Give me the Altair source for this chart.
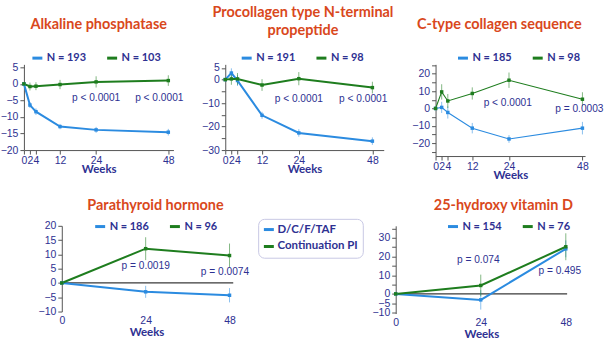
import altair as alt
import pandas as pd

BLUE = "#2b8be0"
GREEN = "#1e7d1e"
NAVY = "#2e3192"
RED = "#d9481c"
FONT = "Liberation Sans"
TFONT = "Lato"

SERIES = ["D/C/F/TAF", "Continuation PI"]

WEEKS_BONE = [0, 2, 4, 12, 24, 48]
WEEKS_MIN = [0, 24, 48]

# Alkaline phosphatase
ALP_N = ["N = 193", "N = 103"]
ALP_DCF = [0, -6.4, -8.4, -12.9, -13.9, -14.6]
ALP_DCF_ERR = [0, 0.9, 1.0, 0.8, 0.9, 1.0]
ALP_PI = [0, -0.8, -0.7, -0.2, 0.6, 1.0]
ALP_PI_ERR = [0, 1.2, 1.2, 1.4, 1.7, 1.6]
ALP_P_WEEK = [24, 45]
ALP_P_VAL = [-4.3, -4.3]
ALP_P_TEXT = ["p < 0.0001", "p < 0.0001"]
ALP_YTICKS = [5, 0, -5, -10, -15, -20]
ALP_YLABELS = [5, 0, -5, -10, -15, -20]

# Procollagen type N-terminal propeptide
P1NP_N = ["N = 191", "N = 98"]
P1NP_DCF = [0, 2.8, -0.4, -15.2, -22.7, -26.2]
P1NP_DCF_ERR = [0, 2.0, 2.3, 1.5, 1.6, 1.6]
P1NP_PI = [0, 0.3, 0.3, -2.3, 0.4, -3.4]
P1NP_PI_ERR = [0, 2.5, 2.5, 2.5, 2.8, 2.5]
P1NP_P_WEEK = [24, 45]
P1NP_P_VAL = [-8.3, -8.3]
P1NP_P_TEXT = ["p < 0.0001", "p < 0.0001"]
P1NP_YTICKS = [5, 0, -5, -10, -15, -20, -25, -30]
P1NP_YLABELS = [5, 0, -10, -20, -30]

# C-type collagen sequence
CTX_N = ["N = 185", "N = 98"]
CTX_DCF = [0, 0.6, -2.3, -11.3, -17.5, -11.3]
CTX_DCF_ERR = [0, 3.2, 3.5, 3.0, 2.2, 3.6]
CTX_PI = [0, 9.5, 4.3, 8.6, 16.2, 5.3]
CTX_PI_ERR = [0, 4.4, 4.0, 3.5, 4.4, 4.0]
CTX_P_WEEK = [23.6, 47]
CTX_P_VAL = [3.4, -0.4]
CTX_P_TEXT = ["p < 0.0001", "p = 0.0003"]
CTX_YTICKS = [25, 20, 15, 10, 5, 0, -5, -10, -15, -20, -25]
CTX_YLABELS = [20, 10, 0, -10, -20]

# Parathyroid hormone
PTH_N = ["N = 186", "N = 96"]
PTH_DCF = [0, -3.1, -4.3]
PTH_DCF_ERR = [0, 2.1, 2.5]
PTH_PI = [0, 12.0, 9.6]
PTH_PI_ERR = [0, 4.0, 4.2]
PTH_P_WEEK = [24, 46.7]
PTH_P_VAL = [5.8, 3.8]
PTH_P_TEXT = ["p = 0.0019", "p = 0.0074"]
PTH_YTICKS = [20, 15, 10, 5, 0, -5, -10]
PTH_YLABELS = [20, 15, 10, 5, 0, -5, -10]

# 25-hydroxy vitamin D
VITD_N = ["N = 154", "N = 76"]
VITD_DCF = [0, -3.2, 24.1]
VITD_DCF_ERR = [0, 5.2, 4.5]
VITD_PI = [0, 4.5, 25.2]
VITD_PI_ERR = [0, 5.8, 7.2]
VITD_P_WEEK = [23.3, 46.3]
VITD_P_VAL = [18, 12]
VITD_P_TEXT = ["p = 0.074", "p = 0.495"]
VITD_YTICKS = [35, 30, 25, 20, 15, 10, 5, 0, -5, -10]
VITD_YLABELS = [30, 20, 10, 0, -5, -10]

GLOBAL_LEGEND = alt.Legend(
    orient="none", legendX=235, legendY=155, title=None, direction="vertical",
    symbolType="M-1,-0.3H1V0.3H-1Z", symbolSize=100, symbolStrokeWidth=0,
    labelFont=TFONT, labelFontSize=11.5, labelFontWeight="bold", labelColor=NAVY,
    strokeColor="#c8c8e4", cornerRadius=6, fillColor="white", padding=5,
    rowPadding=4, labelOffset=3,
)


def panel(title, weeks, dcf, dcf_err, pi, pi_err, n_labels, p_week, p_val, p_text,
          x_dom, y_dom, y_ticks, y_labels, width, height, legend_x, legend_y,
          title_dx, title_offset, line_width, top_row, y_offset=0, title_x=None):
    n = len(weeks)
    vals = dcf + pi
    errs = dcf_err + pi_err
    df = pd.DataFrame({
        "week": weeks + weeks,
        "value": vals,
        "lo": [v - e for v, e in zip(vals, errs)],
        "hi": [v + e for v, e in zip(vals, errs)],
        "series": [SERIES[0]] * n + [SERIES[1]] * n,
        "nlab": [n_labels[0]] * n + [n_labels[1]] * n,
    })
    ptxt = pd.DataFrame({"week": p_week, "value": p_val, "text": p_text})

    label_expr = ("indexof([" + ",".join(str(v) for v in y_labels)
                  + "], datum.value) >= 0 ? datum.label : ''")
    if top_row:
        xaxis = alt.Axis(values=weeks, title="Weeks", domain=True, ticks=True, tickSize=4,
                         labelPadding=1, titlePadding=-2, labelOverlap=False,
                         labelFlush=False, labelBound=False)
    else:
        xaxis = alt.Axis(values=weeks, title="Weeks", domain=False, ticks=False,
                         labelPadding=4, titlePadding=1, labelOverlap=False,
                         labelFlush=False, labelBound=False, titleX=title_x)
    yaxis = alt.Axis(values=y_ticks, labelExpr=label_expr, title=None, tickSize=4,
                     offset=y_offset, labelOverlap=False, labelFlush=False)
    xs = alt.Scale(domain=x_dom, nice=False, zero=False)
    ys = alt.Scale(domain=y_dom, nice=False, zero=False)
    x = alt.X("week:Q", scale=xs, axis=xaxis)
    y = alt.Y("value:Q", scale=ys, axis=yaxis)

    sscale = alt.Scale(domain=n_labels, range=[BLUE, GREEN])
    slegend = alt.Legend(
        orient="none", legendX=legend_x, legendY=legend_y, direction="horizontal",
        title=None, symbolType="stroke", symbolSize=100, symbolStrokeWidth=3,
        labelFont=TFONT, labelFontSize=11, labelFontWeight="bold", labelColor=NAVY,
        labelOffset=3, columnPadding=14, padding=0,
    )
    stroke = alt.Stroke("nlab:N", scale=sscale, legend=slegend)
    fill = alt.Fill("series:N", scale=alt.Scale(domain=SERIES, range=[BLUE, GREEN]),
                    legend=GLOBAL_LEGEND)

    layers = []
    if not top_row:
        zero = pd.DataFrame({"week": [0], "week_end": [x_dom[1]], "value": [0]})
        layers.append(alt.Chart(zero).mark_rule(color="#3a3a3a", strokeWidth=1.2)
                      .encode(x=x, x2="week_end:Q", y=y))
    layers.append(alt.Chart(df).mark_line(strokeWidth=line_width).encode(x=x, y=y, stroke=stroke))
    layers.append(alt.Chart(df).mark_rule(strokeWidth=1, strokeOpacity=0.55).encode(
        x=x, y=alt.Y("lo:Q", scale=ys, axis=yaxis), y2="hi:Q", stroke=stroke))
    layers.append(alt.Chart(df).mark_square(size=12, opacity=1).encode(x=x, y=y, fill=fill))
    layers.append(alt.Chart(ptxt).mark_text(font=FONT, fontSize=10.2, color=NAVY).encode(
        x=x, y=y, text="text:N"))

    return alt.layer(*layers).properties(
        width=width, height=height,
        title=alt.TitleParams(title, font=TFONT, fontSize=14.5, fontWeight="bold", color=RED,
                              anchor="middle", frame="group", dx=title_dx, offset=title_offset,
                              lineHeight=18),
    )


p1 = panel("Alkaline phosphatase", WEEKS_BONE, ALP_DCF, ALP_DCF_ERR, ALP_PI, ALP_PI_ERR, ALP_N,
           ALP_P_WEEK, ALP_P_VAL, ALP_P_TEXT, [0, 49.7], [-20, 5.9], ALP_YTICKS, ALP_YLABELS,
           150, 86, 7, -13, 0, 19, 2, True)
p2 = panel(["Procollagen type N-terminal", "propeptide"], WEEKS_BONE, P1NP_DCF, P1NP_DCF_ERR,
           P1NP_PI, P1NP_PI_ERR, P1NP_N, P1NP_P_WEEK, P1NP_P_VAL, P1NP_P_TEXT, [0, 51.7],
           [-30, 6.5], P1NP_YTICKS, P1NP_YLABELS, 159, 86, 15, -13, -1.5, 13, 2, True)
p3 = panel("C-type collagen sequence", WEEKS_BONE, CTX_DCF, CTX_DCF_ERR, CTX_PI, CTX_PI_ERR,
           CTX_N, CTX_P_WEEK, CTX_P_VAL, CTX_P_TEXT, [0, 48.86], [-27.3, 25.3], CTX_YTICKS,
           CTX_YLABELS, 150, 92, 21, -13, -11, 19, 1.1, True)
p4 = panel("Parathyroid hormone", WEEKS_MIN, PTH_DCF, PTH_DCF_ERR, PTH_PI, PTH_PI_ERR, PTH_N,
           PTH_P_WEEK, PTH_P_VAL, PTH_P_TEXT, [-10.84, 49.06], [-10, 20], PTH_YTICKS,
           PTH_YLABELS, 210, 86, 70, -6, 27, 6, 2, False, y_offset=-38, title_x=123)
p5 = panel("25-hydroxy vitamin D", WEEKS_MIN, VITD_DCF, VITD_DCF_ERR, VITD_PI, VITD_PI_ERR,
           VITD_N, VITD_P_WEEK, VITD_P_VAL, VITD_P_TEXT, [0, 48.37], [-10.5, 36.4], VITD_YTICKS,
           VITD_YLABELS, 172, 88, 51, -6, 22, 6, 2, False, title_x=86)

row1 = (alt.hconcat(p1, p2, p3, spacing=52, bounds="flush")
        .resolve_scale(stroke="independent").resolve_legend(stroke="independent"))
row2 = (alt.hconcat(p4, p5, spacing=163, bounds="flush")
        .resolve_scale(stroke="independent").resolve_legend(stroke="independent"))

chart = (
    alt.vconcat(row1, row2, spacing=17)
    .resolve_scale(stroke="independent").resolve_legend(stroke="independent")
    .properties(padding={"left": 0, "top": 4, "right": 0, "bottom": 0}, background="white")
    .configure_axis(labelFont=FONT, labelColor=NAVY, labelFontSize=10.5, domainColor="#555555",
                    tickColor="#555555", titleFont=TFONT, titleFontWeight="bold",
                    titleColor=NAVY, titleFontSize=11.5, grid=False)
    .configure_view(strokeWidth=0)
)

chart.save("out.html", embed_options={"renderer": "svg", "actions": False})
